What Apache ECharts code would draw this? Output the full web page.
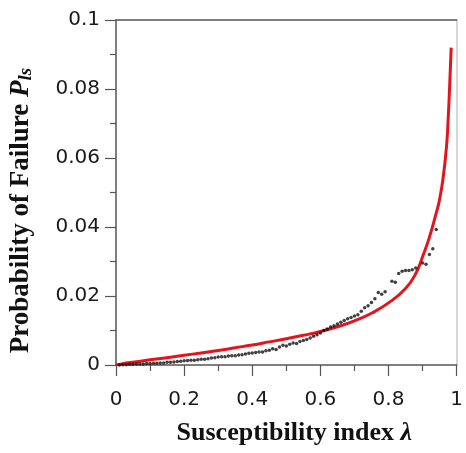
<!DOCTYPE html>
<html>
<head>
<meta charset="utf-8">
<script src="https://cdn.jsdelivr.net/npm/echarts@6/dist/echarts.min.js"></script>
<style>
  html, body { margin: 0; padding: 0; background: #fff; }
  #chart { width: 466px; height: 453px; }
</style>
</head>
<body>
<div id="chart"></div>
<script>
// fitted curve (red)
const curveX = [0, 0.02, 0.05, 0.1, 0.15, 0.2, 0.25, 0.3, 0.35, 0.4, 0.45, 0.5, 0.55, 0.6, 0.65, 0.7, 0.75, 0.8, 0.85, 0.88, 0.9, 0.92, 0.94, 0.95, 0.96, 0.97, 0.975, 0.98, 0.984];
const curveY = [0, 0.0004, 0.0008, 0.0015, 0.0021, 0.0028, 0.0035, 0.0042, 0.005, 0.0058, 0.0067, 0.0076, 0.0086, 0.0097, 0.0111, 0.0128, 0.015, 0.018, 0.0222, 0.0265, 0.0314, 0.037, 0.044, 0.048, 0.054, 0.063, 0.071, 0.082, 0.092];

// observed points (black dots)
const dotX = [0.01, 0.02, 0.03, 0.04, 0.05, 0.06, 0.07, 0.08, 0.09, 0.10,
  0.11, 0.12, 0.13, 0.14, 0.15, 0.16, 0.17, 0.18, 0.19, 0.20,
  0.21, 0.22, 0.23, 0.24, 0.25, 0.26, 0.27, 0.28, 0.29, 0.30,
  0.31, 0.32, 0.33, 0.34, 0.35, 0.36, 0.37, 0.38, 0.39, 0.40,
  0.41, 0.42, 0.43, 0.44, 0.45, 0.46, 0.47, 0.48, 0.49, 0.50,
  0.51, 0.52, 0.53, 0.54, 0.55, 0.56, 0.57, 0.58, 0.59, 0.60,
  0.61, 0.62, 0.63, 0.64, 0.65, 0.66, 0.67, 0.68, 0.69, 0.70,
  0.71, 0.72, 0.73, 0.74, 0.75, 0.76, 0.77, 0.78, 0.79, 0.81,
  0.82, 0.83, 0.84, 0.85, 0.86, 0.87, 0.88, 0.90, 0.91, 0.92, 0.93, 0.94];
const dotY = [0.0000, 0.0001, 0.0001, 0.0002, 0.0002, 0.0003, 0.0003, 0.0003, 0.0004, 0.0004,
  0.0005, 0.0005, 0.0006, 0.0006, 0.0008, 0.0008, 0.0009, 0.0010, 0.0011, 0.0012,
  0.0013, 0.0014, 0.0014, 0.0015, 0.0017, 0.0017, 0.0018, 0.0020, 0.0021, 0.0023,
  0.0024, 0.0024, 0.0026, 0.0027, 0.0027, 0.0029, 0.0030, 0.0032, 0.0034, 0.0035,
  0.0036, 0.0038, 0.0038, 0.0041, 0.0043, 0.0047, 0.0045, 0.0052, 0.0057, 0.0055,
  0.0060, 0.0064, 0.0062, 0.0068, 0.0071, 0.0074, 0.0078, 0.0083, 0.0088, 0.0093,
  0.0100, 0.0104, 0.0110, 0.0114, 0.0119, 0.0124, 0.0129, 0.0134, 0.0138, 0.0142,
  0.0146, 0.0156, 0.0166, 0.0172, 0.0181, 0.0192, 0.0210, 0.0205, 0.0212, 0.0243,
  0.0240, 0.0265, 0.0272, 0.0274, 0.0274, 0.0276, 0.0281, 0.0296, 0.0292, 0.0320, 0.0337, 0.0393];

const axisColor = "#555";
const tickFont = { fontFamily: "DejaVu Sans", fontSize: 20, color: "#1a1a1a" };
const serifBold = { fontFamily: "Liberation Serif", fontWeight: "bold", fontSize: 26, color: "#111" };
const serifBoldY = Object.assign({}, serifBold, { fontSize: 27 });

const chart = echarts.init(document.getElementById("chart"));

const options = {
  animation: false,
  grid: { left: 116, right: 3, top: 20, bottom: 88 },
  xAxis: [
    {
      type: "value",
      min: 0,
      max: 1,
      interval: 0.2,
      axisLine: { show: true, onZero: false, lineStyle: { color: axisColor, width: 1.5 } },
      axisTick: { show: true, length: 11, lineStyle: { color: axisColor, width: 1.2 } },
      minorTick: { show: true, splitNumber: 2, length: 6, lineStyle: { color: axisColor, width: 1.2 } },
      splitLine: { show: false },
      axisLabel: Object.assign({ margin: 25 }, tickFont),
      name: "Susceptibility index {l|λ}",
      nameLocation: "middle",
      nameGap: 55,
      nameTextStyle: Object.assign({
        padding: [0, 0, 0, 16],
        rich: { l: Object.assign({}, serifBold, { fontStyle: "italic" }) },
      }, serifBold),
    },
    {
      type: "value",
      position: "top",
      min: 0,
      max: 1,
      axisLine: { show: true, onZero: false, lineStyle: { color: axisColor, width: 1.5 } },
      axisTick: { show: false },
      axisLabel: { show: false },
      splitLine: { show: false },
    },
  ],
  yAxis: [
    {
      type: "value",
      min: 0,
      max: 0.1,
      interval: 0.02,
      axisLine: { show: true, onZero: false, lineStyle: { color: axisColor, width: 1.5 } },
      axisTick: { show: true, length: 11, lineStyle: { color: axisColor, width: 1.2 } },
      minorTick: { show: true, splitNumber: 2, length: 6, lineStyle: { color: axisColor, width: 1.2 } },
      splitLine: { show: false },
      axisLabel: Object.assign({ margin: 16 }, tickFont),
      name: "{t|Probability of Failure }{p|P}{s|ls}",
      nameLocation: "middle",
      nameRotate: 90,
      nameGap: 80,
      nameTextStyle: {
        padding: [0, 36, 0, 0],
        rich: {
          t: serifBoldY,
          p: Object.assign({}, serifBoldY, { fontStyle: "italic" }),
          s: Object.assign({}, serifBoldY, { fontStyle: "italic", fontSize: 19, verticalAlign: "bottom", padding: [10, 0, 0, 0] }),
        },
      },
    },
    {
      type: "value",
      position: "right",
      min: 0,
      max: 0.1,
      axisLine: { show: true, onZero: false, lineStyle: { color: "#c8c8c8", width: 1.5 } },
      axisTick: { show: false },
      axisLabel: { show: false },
      splitLine: { show: false },
    },
  ],
  series: [
    {
      name: "Fitted",
      type: "line",
      smooth: true,
      symbol: "none",
      lineStyle: { color: "#e3141b", width: 3 },
      data: curveX.map((x, i) => [x, curveY[i]]),
      z: 2,
    },
    {
      name: "Observed",
      type: "scatter",
      symbolSize: 3.5,
      itemStyle: { color: "#111" },
      data: dotX.map((x, i) => [x, dotY[i]]),
      z: 3,
    },
  ],
};

chart.setOption(options);
</script>
</body>
</html>
